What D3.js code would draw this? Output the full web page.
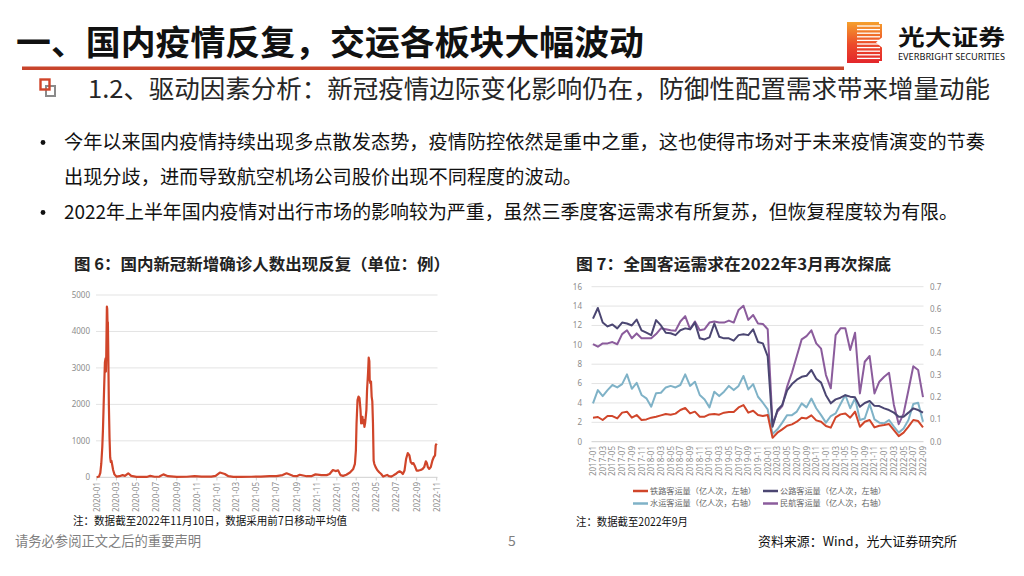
<!DOCTYPE html>
<html><head><meta charset="utf-8">
<script src="https://cdn.jsdelivr.net/npm/d3@7/dist/d3.min.js"></script>
<style>
html,body{margin:0;padding:0;background:#fff;}
svg{display:block;}
</style></head><body>
<svg id="slide" width="1024" height="576"></svg>
<script>
// ---------------- DATA ----------------
const titleText = "一、国内疫情反复，交运各板块大幅波动";
const subTitleText = "1.2、驱动因素分析：新冠疫情边际变化影响仍在，防御性配置需求带来增量动能";
const bulletLines = [
  "今年以来国内疫情持续出现多点散发态势，疫情防控依然是重中之重，这也使得市场对于未来疫情演变的节奏",
  "出现分歧，进而导致航空机场公司股价出现不同程度的波动。",
  "2022年上半年国内疫情对出行市场的影响较为严重，虽然三季度客运需求有所复苏，但恢复程度较为有限。"
];

// Chart 6: daily new confirmed cases (7-day MA)
const covidDates = ["2020-01-01","2020-01-08","2020-01-12","2020-01-15","2020-01-18","2020-01-20","2020-01-22","2020-01-24","2020-01-26","2020-01-28","2020-01-29","2020-01-30","2020-02-01","2020-02-02","2020-02-03","2020-02-04","2020-02-05","2020-02-07","2020-02-09","2020-02-11","2020-02-13","2020-02-15","2020-02-17","2020-02-20","2020-02-24","2020-03-01","2020-03-10","2020-03-20","2020-03-27","2020-04-06","2020-04-15","2020-05-01","2020-05-20","2020-06-01","2020-06-12","2020-06-25","2020-07-10","2020-07-22","2020-08-05","2020-09-01","2020-10-01","2020-10-25","2020-11-15","2020-12-15","2020-12-28","2021-01-10","2021-01-25","2021-02-05","2021-02-20","2021-03-15","2021-04-15","2021-05-15","2021-06-10","2021-07-01","2021-07-20","2021-08-01","2021-08-20","2021-09-01","2021-09-10","2021-10-01","2021-10-15","2021-10-28","2021-11-15","2021-12-01","2021-12-10","2021-12-20","2021-12-28","2022-01-05","2022-01-12","2022-01-20","2022-01-30","2022-02-10","2022-02-20","2022-02-25","2022-02-28","2022-03-02","2022-03-05","2022-03-08","2022-03-11","2022-03-14","2022-03-16","2022-03-18","2022-03-20","2022-03-22","2022-03-24","2022-03-26","2022-03-28","2022-03-30","2022-04-01","2022-04-03","2022-04-06","2022-04-08","2022-04-10","2022-04-11","2022-04-13","2022-04-15","2022-04-17","2022-04-19","2022-04-21","2022-04-23","2022-04-25","2022-04-29","2022-05-04","2022-05-10","2022-05-16","2022-05-22","2022-05-28","2022-06-03","2022-06-09","2022-06-16","2022-06-21","2022-06-29","2022-07-06","2022-07-11","2022-07-16","2022-07-21","2022-07-26","2022-07-31","2022-08-05","2022-08-10","2022-08-14","2022-08-18","2022-08-22","2022-08-26","2022-09-01","2022-09-07","2022-09-13","2022-09-19","2022-09-24","2022-09-29","2022-10-02","2022-10-05","2022-10-09","2022-10-14","2022-10-19","2022-10-23","2022-10-27","2022-10-29","2022-11-01"];
const covidCases = [0,20,120,380,830,1290,1930,2570,3160,3260,2900,3300,4680,4620,4200,4250,3600,2000,1100,550,420,450,350,200,80,20,30,60,40,110,40,10,10,10,40,15,20,80,30,10,15,30,20,20,40,130,90,30,10,10,15,20,30,30,60,110,40,30,70,30,30,80,60,60,90,200,170,190,60,40,70,130,230,370,740,1480,2120,2215,2170,1850,1480,1615,1660,1480,1570,1385,1480,1660,1850,2400,2860,3280,3185,2680,2585,2630,2215,2080,1480,460,370,280,200,140,90,20,45,65,30,20,45,90,140,165,140,90,185,510,665,600,415,370,390,320,185,185,200,230,280,440,390,280,230,280,460,550,600,880,925];
const covidYTicks = [0,1000,2000,3000,4000,5000];
const covidXTicks = ["2020-01","2020-03","2020-05","2020-07","2020-09","2020-11","2021-01","2021-03","2021-05","2021-07","2021-09","2021-11","2022-01","2022-03","2022-05","2022-07","2022-09","2022-11"];

// Chart 7: monthly passenger volume
const months = ["2017-01","2017-02","2017-03","2017-04","2017-05","2017-06","2017-07","2017-08","2017-09","2017-10","2017-11","2017-12",
"2018-01","2018-02","2018-03","2018-04","2018-05","2018-06","2018-07","2018-08","2018-09","2018-10","2018-11","2018-12",
"2019-01","2019-02","2019-03","2019-04","2019-05","2019-06","2019-07","2019-08","2019-09","2019-10","2019-11","2019-12",
"2020-01","2020-02","2020-03","2020-04","2020-05","2020-06","2020-07","2020-08","2020-09","2020-10","2020-11","2020-12",
"2021-01","2021-02","2021-03","2021-04","2021-05","2021-06","2021-07","2021-08","2021-09","2021-10","2021-11","2021-12",
"2022-01","2022-02","2022-03","2022-04","2022-05","2022-06","2022-07","2022-08","2022-09"];
const railway = [2.48,2.55,2.24,2.65,2.65,2.4,3.0,3.1,2.48,2.75,2.24,2.3,2.48,2.58,2.72,2.86,2.79,2.9,3.27,3.48,2.92,3.1,2.58,2.58,2.82,2.86,2.79,3.0,3.06,3.06,3.54,3.78,3.0,3.2,2.75,2.65,2.75,0.4,0.93,1.27,1.65,1.79,2.06,2.48,2.4,2.72,2.2,2.06,1.62,1.45,2.51,2.82,2.92,2.48,3.1,1.55,2.06,2.24,1.48,1.65,1.72,1.82,1.2,0.58,0.93,1.55,2.24,2.13,1.48];
const highway = [12.7,13.8,12.3,11.9,12.1,11.7,12.3,12.2,12.0,12.6,11.5,11.25,11.0,12.55,12.0,11.25,11.2,11.0,11.5,11.7,11.6,12.3,10.67,10.56,10.77,12.2,10.84,10.67,10.67,10.43,11.0,11.1,11.0,11.6,10.3,10.15,8.8,1.55,3.27,3.8,5.3,5.95,6.4,6.7,6.8,7.4,6.5,6.1,4.8,3.96,4.37,4.54,4.8,4.65,4.58,3.6,4.0,4.2,3.7,3.68,3.44,3.27,3.0,2.58,2.58,3.0,3.44,3.27,3.0];
const water = [0.173,0.233,0.206,0.233,0.256,0.245,0.260,0.304,0.239,0.266,0.211,0.196,0.158,0.219,0.221,0.245,0.252,0.245,0.256,0.304,0.252,0.271,0.211,0.191,0.155,0.226,0.206,0.226,0.252,0.233,0.252,0.297,0.236,0.260,0.203,0.176,0.146,0.035,0.056,0.086,0.120,0.120,0.136,0.173,0.155,0.195,0.151,0.120,0.086,0.116,0.128,0.170,0.211,0.151,0.196,0.098,0.105,0.170,0.101,0.086,0.083,0.098,0.068,0.041,0.060,0.098,0.170,0.176,0.090];
const aviation = [0.441,0.429,0.444,0.444,0.450,0.440,0.486,0.503,0.467,0.489,0.467,0.467,0.467,0.486,0.512,0.508,0.503,0.501,0.543,0.567,0.508,0.543,0.503,0.508,0.538,0.543,0.538,0.538,0.547,0.538,0.595,0.614,0.550,0.572,0.534,0.532,0.508,0.079,0.136,0.161,0.249,0.312,0.387,0.462,0.477,0.503,0.444,0.420,0.301,0.241,0.481,0.512,0.512,0.414,0.492,0.218,0.361,0.387,0.218,0.271,0.293,0.311,0.166,0.079,0.127,0.232,0.341,0.324,0.201];
const leftTicks7 = [0,2,4,6,8,10,12,14,16];
const rightTicks7 = [0,0.1,0.2,0.3,0.4,0.5,0.6,0.7];
const seriesNames = ["铁路客运量（亿人次，左轴）","公路客运量（亿人次，左轴）","水运客运量（亿人次，右轴）","民航客运量（亿人次，右轴）"];

// ---------------- DRAW ----------------
const CJK = '"Noto Sans CJK SC","Noto Sans",sans-serif';
const LAT = '"Noto Sans","Liberation Sans",sans-serif';
const svg = d3.select('#slide').attr('font-family', CJK);

// Header
svg.append('text').attr('x',16).attr('y',55).attr('font-size',34).attr('font-weight','bold')
  .attr('fill','#111').attr('textLength',628).attr('lengthAdjust','spacingAndGlyphs').text(titleText);
svg.append('rect').attr('x',22).attr('y',66.5).attr('width',822).attr('height',3.5).attr('fill','#c8442b');

// logo
const defs = svg.append('defs');
const lg = defs.append('linearGradient').attr('id','lg').attr('x1',0).attr('y1',0).attr('x2',0).attr('y2',1);
lg.append('stop').attr('offset','0%').attr('stop-color','#f5a02c');
lg.append('stop').attr('offset','55%').attr('stop-color','#ec4a2a');
lg.append('stop').attr('offset','100%').attr('stop-color','#e3262b');
svg.append('rect').attr('x',847).attr('y',22).attr('width',35).attr('height',41).attr('fill','url(#lg)');
const stripeYs = d3.range(26, 61, 3.6);
svg.selectAll('line.stripe').data(stripeYs).enter().append('line')
  .attr('x1',857).attr('x2',880).attr('y1',d=>d).attr('y2',d=>d).attr('stroke','#fff').attr('stroke-width',1.3);
svg.append('polygon').attr('points','882.5,37 876,42.5 882.5,48').attr('fill','#fff');
svg.append('rect').attr('x',879).attr('y',21).attr('width',4).attr('height',3).attr('fill','#fff');
svg.append('rect').attr('x',879).attr('y',61).attr('width',4).attr('height',3).attr('fill','#fff');
svg.append('text').attr('x',898).attr('y',45).attr('font-size',22).attr('font-weight','bold').attr('fill','#111')
  .attr('textLength',107).attr('lengthAdjust','spacingAndGlyphs').text('光大证券');
svg.append('text').attr('x',898).attr('y',60).attr('font-size',8).attr('font-family',LAT).attr('fill','#111')
  .attr('textLength',107).attr('lengthAdjust','spacingAndGlyphs').text('EVERBRIGHT SECURITIES');

// Subtitle icon
svg.append('rect').attr('x',46).attr('y',86).attr('width',9).attr('height',10).attr('fill','none').attr('stroke','#8a8a8a').attr('stroke-width',2);
svg.append('rect').attr('x',40.5).attr('y',79.5).attr('width',9).attr('height',10).attr('fill','none').attr('stroke','#d0452a').attr('stroke-width',2.4);
svg.append('text').attr('x',88).attr('y',98).attr('font-size',24.5).attr('fill','#262626')
  .attr('textLength',902).attr('lengthAdjust','spacingAndGlyphs').text(subTitleText);

// Bullets
const bulletY = [149, 184, 219];
const bulletLen = [921, null, 894];
bulletLines.forEach((t,i)=>{
  const el = svg.append('text').attr('x',64).attr('y',bulletY[i]).attr('font-size',19.2).attr('fill','#111').text(t);
  if (bulletLen[i]) el.attr('textLength',bulletLen[i]).attr('lengthAdjust','spacingAndGlyphs');
});
[149,219].forEach(y=>svg.append('circle').attr('cx',43).attr('cy',y-6.5).attr('r',2.4).attr('fill','#111'));

// ---------- Chart 6 ----------
svg.append('text').attr('x',74).attr('y',270).attr('font-size',16).attr('font-weight','bold').attr('fill','#222')
  .attr('textLength',376).attr('lengthAdjust','spacingAndGlyphs').text('图 6：国内新冠新增确诊人数出现反复（单位：例）');
const parse = d3.timeParse('%Y-%m-%d');
const parseM = d3.timeParse('%Y-%m');
const x6 = d3.scaleTime().domain([parseM(covidXTicks[0]), parseM(covidXTicks[covidXTicks.length-1])]).range([96.7, 436.7]);
const y6 = d3.scaleLinear().domain([0,5000]).range([477.3, 295]);
const g6 = svg.append('g');
g6.selectAll('line.grid').data(covidYTicks).enter().append('line')
  .attr('x1',96).attr('x2',437.5).attr('y1',d=>y6(d)).attr('y2',d=>y6(d))
  .attr('stroke', d=> d===0 ? '#cfcfcf' : '#e3e3e3').attr('stroke-width',1);
g6.selectAll('text.yl').data(covidYTicks).enter().append('text')
  .attr('x',90).attr('y',d=>y6(d)).attr('dy','0.35em').attr('text-anchor','end')
  .attr('font-family',LAT).attr('font-size',8).attr('fill','#8c8c8c').text(d=>d);
g6.selectAll('line.tk').data(covidXTicks).enter().append('line')
  .attr('x1',d=>x6(parseM(d))).attr('x2',d=>x6(parseM(d))).attr('y1',477.3).attr('y2',480.5)
  .attr('stroke','#cfcfcf');
g6.selectAll('text.xl').data(covidXTicks).enter().append('text')
  .attr('transform',d=>`translate(${x6(parseM(d))+3},482) rotate(-90)`)
  .attr('text-anchor','end').attr('font-family',LAT).attr('font-size',8).attr('fill','#8c8c8c').text(d=>d);
const covidPts = covidDates.map((d,i)=>[parse(d), covidCases[i]]);
g6.append('path').datum(covidPts)
  .attr('d', d3.line().x(d=>x6(d[0])).y(d=>y6(d[1])))
  .attr('fill','none').attr('stroke','#d0452a').attr('stroke-width',2.2).attr('stroke-linejoin','round');
svg.append('text').attr('x',73).attr('y',524.5).attr('font-size',11.5).attr('fill','#111')
  .attr('textLength',274).attr('lengthAdjust','spacingAndGlyphs').text('注：数据截至2022年11月10日，数据采用前7日移动平均值');

// ---------- Chart 7 ----------
svg.append('text').attr('x',576).attr('y',269.5).attr('font-size',16).attr('font-weight','bold').attr('fill','#222')
  .attr('textLength',315).attr('lengthAdjust','spacingAndGlyphs').text('图 7：全国客运需求在2022年3月再次探底');
const x7 = d3.scalePoint().domain(months).range([593, 923]);
const yL = d3.scaleLinear().domain([0,16]).range([441.7, 286.7]);
const yR = d3.scaleLinear().domain([0,0.7]).range([441.7, 286.7]);
const g7 = svg.append('g');
g7.selectAll('line.grid').data(leftTicks7).enter().append('line')
  .attr('x1',591.5).attr('x2',923.5).attr('y1',d=>yL(d)).attr('y2',d=>yL(d))
  .attr('stroke', d=> d===0 ? '#cfcfcf' : '#e3e3e3').attr('stroke-width',1);
g7.selectAll('text.yl').data(leftTicks7).enter().append('text')
  .attr('x',582).attr('y',d=>yL(d)).attr('dy','0.35em').attr('text-anchor','end')
  .attr('font-family',LAT).attr('font-size',8).attr('fill','#8c8c8c').text(d=>d);
g7.selectAll('text.yr').data(rightTicks7).enter().append('text')
  .attr('x',930).attr('y',d=>yR(d)).attr('dy','0.35em').attr('text-anchor','start')
  .attr('font-family',LAT).attr('font-size',8).attr('fill','#8c8c8c').text(d=>d3.format('.1f')(d));
const xLabels7 = months.filter((d,i)=>i%2===0);
g7.selectAll('text.xl').data(xLabels7).enter().append('text')
  .attr('transform',d=>`translate(${x7(d)+3},446) rotate(-90)`)
  .attr('text-anchor','end').attr('font-family',LAT).attr('font-size',8).attr('fill','#8c8c8c').text(d=>d);

const seriesDefs = [
  {vals: railway, y: yL, color:'#d0452a'},
  {vals: highway, y: yL, color:'#4b4672'},
  {vals: water,   y: yR, color:'#7fb2c7'},
  {vals: aviation,y: yR, color:'#8b5c9c'}
];
const drawOrder = [2,3,1,0];
drawOrder.forEach(k=>{
  const s = seriesDefs[k];
  g7.append('path').datum(s.vals)
    .attr('d', d3.line().x((d,i)=>x7(months[i])).y(d=>s.y(d)))
    .attr('fill','none').attr('stroke',s.color).attr('stroke-width',2).attr('stroke-linejoin','round');
});
// legend
const legPos = [[633,491],[763,491],[633,503.5],[763,503.5]];
seriesNames.forEach((n,i)=>{
  const [lx,ly] = legPos[i];
  svg.append('line').attr('x1',lx).attr('x2',lx+15).attr('y1',ly).attr('y2',ly)
    .attr('stroke',seriesDefs[i].color).attr('stroke-width',2.5);
  svg.append('text').attr('x',lx+17).attr('y',ly).attr('dy','0.36em').attr('font-size',7.6).attr('fill','#666')
    .attr('textLength',106).attr('lengthAdjust','spacingAndGlyphs').text(n);
});
svg.append('text').attr('x',576).attr('y',526).attr('font-size',11.5).attr('fill','#111')
  .attr('textLength',112).attr('lengthAdjust','spacingAndGlyphs').text('注：数据截至2022年9月');

// Footer
svg.append('text').attr('x',15).attr('y',546).attr('font-size',13.5).attr('fill','#7f7f7f')
  .attr('textLength',186).attr('lengthAdjust','spacingAndGlyphs').text('请务必参阅正文之后的重要声明');
svg.append('text').attr('x',512).attr('y',546).attr('text-anchor','middle').attr('font-size',14).attr('fill','#7f7f7f').text('5');
svg.append('text').attr('x',758).attr('y',546).attr('font-size',13).attr('fill','#111')
  .attr('textLength',199).attr('lengthAdjust','spacingAndGlyphs').text('资料来源：Wind，光大证券研究所');
</script></body></html>
